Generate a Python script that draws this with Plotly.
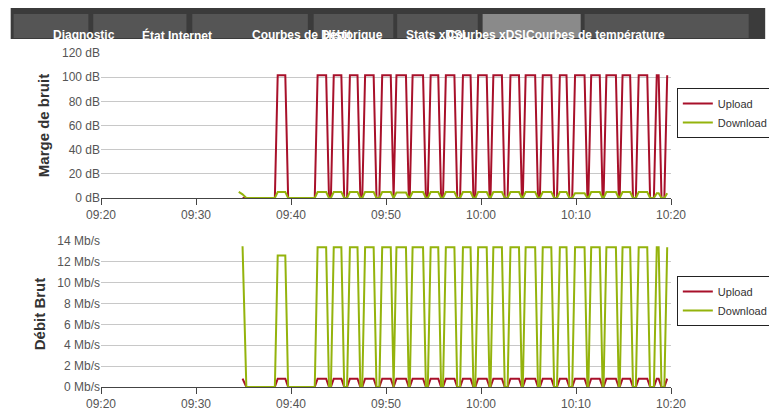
import plotly.graph_objects as go
import datetime as dt

base = dt.datetime(2024, 1, 1, 9, 20)

# pulse plateaus (minutes after 09:20)
pulse_start = [18.6, 22.8, 24.5, 26.2, 27.8, 29.6, 31.1, 32.8, 34.7, 36.3, 38.1, 39.7, 41.3, 43.1,
               44.7, 46.5, 48.3, 49.9, 51.6, 53.2, 54.9, 56.6, 58.5]
pulse_end = [19.4, 23.7, 25.3, 27.0, 28.7, 30.5, 32.1, 33.9, 35.5, 37.2, 38.9, 40.6, 42.2, 44.0,
             45.7, 47.4, 49.0, 50.9, 52.5, 54.2, 55.7, 57.5, 58.7]
final_rise = [59.3, 59.6]

snr_up_high = [101.5] * 23
snr_down_high = [5, 5, 5, 5, 5, 5, 4.5, 5, 5, 5, 5, 5, 5, 5, 5, 5, 5, 4, 5, 5, 5, 5, 4]
rate_down_high = [12.6] + [13.4] * 22
rate_up_high = [0.8] * 23

start_t = [14.5, 14.9, 15.3]
snr_down_start = [5, 3, 0]
rate_down_start = [13.5, 13.5, 0]

ramp = 0.3

def build(highs, t0, v0):
    ts = list(t0); vs = list(v0)
    for s, e, h in zip(pulse_start, pulse_end, highs):
        ts += [s - ramp, s, e, e + ramp]
        vs += [0, h, h, 0]
    ts += [final_rise[0], final_rise[1]]
    vs += [0, highs[-1]]
    return [base + dt.timedelta(minutes=t) for t in ts], vs

x1u, y1u = build(snr_up_high, [14.9, 15.3], [0, 0])
x1d, y1d = build(snr_down_high, start_t, snr_down_start)
x2u, y2u = build(rate_up_high, [14.9, 15.3], [0.8, 0])
x2d, y2d = build(rate_down_high, start_t[1:], rate_down_start[1:])

RED = "#a8102a"; GREEN = "#94b30c"
fig = go.Figure()
fig.add_trace(go.Scatter(x=x1u, y=y1u, name="Upload", line=dict(color=RED, width=2), legend="legend"))
fig.add_trace(go.Scatter(x=x1d, y=y1d, name="Download", line=dict(color=GREEN, width=2), legend="legend"))
fig.add_trace(go.Scatter(x=x2u, y=y2u, name="Upload", line=dict(color=RED, width=2), xaxis="x2", yaxis="y2", legend="legend2"))
fig.add_trace(go.Scatter(x=x2d, y=y2d, name="Download", line=dict(color=GREEN, width=2), xaxis="x2", yaxis="y2", legend="legend2"))

L, R, T, B = 93, 97, 45, 37
H = 416 - T - B
W = 777 - L - R
def py(p):
    return 1 - (p - T) / H
def px(p):
    return (p - L) / W

font = dict(family="Liberation Sans, Arial", size=12, color="#555")
xr = [base, base + dt.timedelta(minutes=60)]
xax = dict(range=xr, dtick=600000, tickformat="%H:%M", showgrid=False, showline=True, linecolor="#444",
           ticks="outside", ticklen=6, tickcolor="#444", domain=[0, 1], tickfont=font, automargin=False)
ttl = dict(size=15, color="#333", family="Liberation Sans, Arial")
fig.update_layout(
    width=777, height=416, margin=dict(l=L, r=R, t=T, b=B), paper_bgcolor="white", plot_bgcolor="white",
    font=font, showlegend=True,
    xaxis=dict(xax, anchor="y"), xaxis2=dict(xax, anchor="y2"),
    yaxis=dict(domain=[py(190), 1], range=[0, 120], dtick=20, ticksuffix=" dB", gridcolor="#c8c8c8",
               zeroline=False, tickfont=font, automargin=False,
               title=dict(text="<b>Marge de bruit</b>", font=ttl, standoff=8)),
    yaxis2=dict(domain=[0, py(233)], range=[0, 14], dtick=2, ticksuffix=" Mb/s", gridcolor="#c8c8c8",
                zeroline=False, tickfont=font, automargin=False,
                title=dict(text="<b>Débit Brut</b>", font=ttl, standoff=8)),
    legend=dict(x=px(686), y=py(80), xanchor="left", yanchor="top", bordercolor="#222", borderwidth=1,
                font=dict(size=11, color="#333"), itemwidth=30),
    legend2=dict(x=px(686), y=py(268), xanchor="left", yanchor="top", bordercolor="#222", borderwidth=1,
                 font=dict(size=11, color="#333"), itemwidth=30),
)

shapes = [dict(type="rect", xref="paper", yref="paper", x0=px(0), x1=px(777), y0=py(31), y1=py(0),
               fillcolor="#3b3b3b", line=dict(width=0), layer="below")]
tabs = [("Diagnostic", 3, 80), ("État Internet", 85, 181), ("Courbes de Débit", 187, 306),
        ("Historique", 312, 394), ("Stats xDSL", 398, 481), ("Courbes xDSL", 486, 587),
        ("Courbes de température", 591, 760)]
for name, a, b in tabs:
    active = name == "Courbes xDSL"
    shapes.append(dict(type="rect", xref="paper", yref="paper", x0=px(a), x1=px(b),
                       y0=py(30), y1=py(6), fillcolor="#8a8a8a" if active else "#555555",
                       line=dict(width=0), layer="below"))
    fig.add_annotation(x=px((a + b) / 2), y=py(18), xref="paper", yref="paper", text=f"<b>{name}</b>",
                       showarrow=False, font=dict(family="Liberation Sans, Arial", size=12, color="white"))
fig.update_layout(shapes=shapes)
fig.write_html("out.html")
